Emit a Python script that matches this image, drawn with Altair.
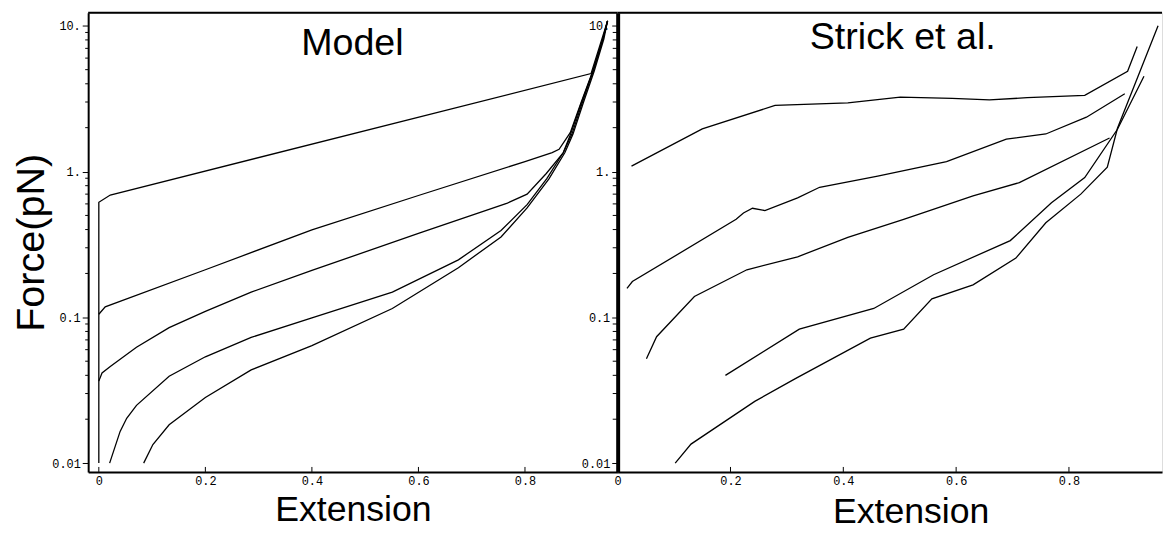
import altair as alt
import pandas as pd

# ---------------- data: left panel "Model" ----------------
model_a_x = [0.0, 0.0, 0.0215, 0.924, 0.955]
model_a_f = [0.0100, 0.615, 0.69, 4.7, 10.8]

model_b_x = [0.0, 0.012, 0.2, 0.4, 0.6, 0.8, 0.851, 0.864, 0.885, 0.905, 0.927, 0.946, 0.955]
model_b_f = [0.105, 0.118, 0.212, 0.398, 0.685, 1.17, 1.35, 1.42, 1.85, 2.95, 4.85, 8.1, 10.8]

model_c_x = [0.0, 0.006, 0.0215, 0.0707, 0.132, 0.2, 0.286, 0.4, 0.6, 0.767, 0.804,
             0.84, 0.872, 0.885, 0.905, 0.927, 0.946, 0.955]
model_c_f = [0.0365, 0.0415, 0.046, 0.0624, 0.085, 0.110, 0.149, 0.21, 0.376, 0.608, 0.70,
             0.97, 1.35, 1.78, 2.9, 4.8, 8.0, 10.8]

model_d_x = [0.0203, 0.040, 0.0523, 0.0707, 0.132, 0.2, 0.286, 0.4, 0.551, 0.675, 0.755,
             0.804, 0.841, 0.872, 0.888, 0.908, 0.928, 0.946, 0.955]
model_d_f = [0.0100, 0.0165, 0.0203, 0.0249, 0.0394, 0.0536, 0.0728, 0.099, 0.149, 0.248, 0.394,
             0.593, 0.893, 1.35, 1.8, 3.0, 4.9, 8.0, 10.8]

model_e_x = [0.0842, 0.1015, 0.132, 0.2, 0.286, 0.4, 0.551, 0.675, 0.755, 0.804, 0.845,
             0.875, 0.89, 0.91, 0.93, 0.948, 0.955]
model_e_f = [0.0100, 0.0134, 0.0183, 0.0282, 0.0436, 0.064, 0.115, 0.219, 0.356, 0.563, 0.89,
             1.35, 1.8, 3.0, 4.9, 8.1, 10.8]

# ---------------- data: right panel "Strick et al." ----------------
strick_1_x = [0.0245, 0.150, 0.279, 0.408, 0.501, 0.593, 0.659, 0.726, 0.828, 0.904, 0.921]
strick_1_f = [1.09, 1.96, 2.84, 2.96, 3.24, 3.18, 3.10, 3.21, 3.33, 4.87, 7.2]

strick_2_x = [0.0165, 0.026, 0.21, 0.223, 0.239, 0.261, 0.319, 0.358, 0.461, 0.583, 0.689,
              0.759, 0.831, 0.899]
strick_2_f = [0.158, 0.176, 0.47, 0.52, 0.56, 0.54, 0.66, 0.78, 0.93, 1.17, 1.67,
              1.81, 2.36, 3.42]

strick_3_x = [0.051, 0.069, 0.136, 0.229, 0.319, 0.408, 0.507, 0.63, 0.712, 0.872]
strick_3_f = [0.052, 0.0736, 0.139, 0.212, 0.26, 0.354, 0.469, 0.68, 0.84, 1.70]

strick_4_x = [0.191, 0.322, 0.454, 0.56, 0.696, 0.769, 0.828, 0.886, 0.933]
strick_4_f = [0.040, 0.083, 0.115, 0.196, 0.336, 0.61, 0.91, 1.95, 4.5]

strick_5_x = [0.102, 0.130, 0.243, 0.315, 0.448, 0.507, 0.557, 0.63, 0.706, 0.759, 0.821,
              0.868, 0.886, 0.958]
strick_5_f = [0.0100, 0.0135, 0.0265, 0.038, 0.072, 0.083, 0.134, 0.167, 0.255, 0.445, 0.70,
              1.07, 1.98, 10.0]

# ---------------- axis ticks ----------------
y_major = [0.01, 0.1, 1, 10]
y_minor = [0.02, 0.03, 0.04, 0.05, 0.06, 0.07, 0.08, 0.09,
           0.2, 0.3, 0.4, 0.5, 0.6, 0.7, 0.8, 0.9,
           2, 3, 4, 5, 6, 7, 8, 9]
x_ticks = [0, 0.2, 0.4, 0.6, 0.8]


def make_df(series):
    rows = []
    for name, xs, fs in series:
        for i, (xv, fv) in enumerate(zip(xs, fs)):
            rows.append({"series": name, "x": xv, "f": fv, "order": i})
    return pd.DataFrame(rows)


model_df = make_df([
    ("A", model_a_x, model_a_f), ("B", model_b_x, model_b_f), ("C", model_c_x, model_c_f),
    ("D", model_d_x, model_d_f), ("E", model_e_x, model_e_f),
])
strick_df = make_df([
    ("1", strick_1_x, strick_1_f), ("2", strick_2_x, strick_2_f), ("3", strick_3_x, strick_3_f),
    ("4", strick_4_x, strick_4_f), ("5", strick_5_x, strick_5_f),
])

H = 464
W_LEFT = 535
W_RIGHT = 550

y_scale = alt.Scale(type="log", domain=[0.0087, 12.3], nice=False)
y_label_expr = ("datum.value == 10 ? '10.' : datum.value == 1 ? '1.' : "
                "datum.value == 0.1 ? '0.1' : datum.value == 0.01 ? '0.01' : ''")
x_label_expr = "datum.value == 0 ? '0' : format(datum.value, '.1f')"


def y_axis(title, domain_width):
    kw = dict(values=y_major, labelExpr=y_label_expr, labelFont="Liberation Mono",
              labelFontSize=12, labelColor="black", labelPadding=2, labelFlush=False,
              labelOverlap=False, tickSize=6, tickColor="black", tickWidth=1,
              domainColor="black", domainWidth=domain_width, grid=False)
    if title:
        kw.update(title=title, titleFont="Liberation Sans", titleFontSize=40,
                  titleFontWeight="normal", titleColor="black", titlePadding=0)
    else:
        kw.update(title=None)
    return alt.Axis(**kw)


def x_axis(title_padding, title_x=None):
    kw = dict(values=x_ticks, labelExpr=x_label_expr, labelFont="Liberation Mono",
              labelFontSize=12, labelColor="black", labelPadding=4, labelFlush=False,
              tickSize=0, domainColor="black", domainWidth=2, grid=False,
              title="Extension", titleFont="Liberation Sans", titleFontSize=36,
              titleFontWeight="normal", titleColor="black", titlePadding=title_padding)
    if title_x is not None:
        kw.update(titleX=title_x, titleAlign="center")
    return alt.Axis(**kw)


def panel(df, x_domain, width, yax, xax, title_text, title_x, title_y, minor_x0):
    x_scale = alt.Scale(domain=x_domain, nice=False, zero=False)
    X = alt.X("x:Q", scale=x_scale, axis=xax)
    Y = alt.Y("f:Q", scale=y_scale, axis=yax)

    lines = alt.Chart(df).mark_line(color="black", strokeWidth=1.3).encode(
        x=X, y=Y, detail="series:N", order="order:Q")

    minor = alt.Chart(pd.DataFrame({"f": y_minor})).mark_rule(
        color="black", strokeWidth=1).encode(
        y=Y, x=alt.value(minor_x0), x2=alt.value(0))

    xt = alt.Chart(pd.DataFrame({"x": x_ticks})).mark_rule(
        color="black", strokeWidth=1).encode(
        x=X, y=alt.value(H), y2=alt.value(H - 5))

    top = alt.Chart(pd.DataFrame({"k": [0]})).mark_rule(
        color="black", strokeWidth=2).encode(
        x=alt.value(0), x2=alt.value(width), y=alt.value(0))

    label = alt.Chart(pd.DataFrame({"t": [title_text]})).mark_text(
        font="Liberation Sans", fontSize=38, color="black", align="center",
        baseline="alphabetic").encode(
        text="t:N", x=alt.value(title_x), y=alt.value(title_y))

    return alt.layer(lines, minor, xt, top, label).properties(width=width, height=H)


left = panel(model_df, [-0.02, 0.974], W_LEFT, y_axis("Force(pN)", 2), x_axis(6),
             "Model", 267, 43, -3)
right = panel(strick_df, [0, 0.965], W_RIGHT, y_axis(None, 4), x_axis(8, 296),
              "Strick et al.", 288, 37, -5)

chart = alt.hconcat(left, right, spacing=0, bounds="flush").properties(
    padding={"left": 3, "top": 0, "right": 0, "bottom": 0}
).configure_view(stroke=None).configure(background="white")

chart.save("out.html", embed_options={"renderer": "svg", "actions": False})
